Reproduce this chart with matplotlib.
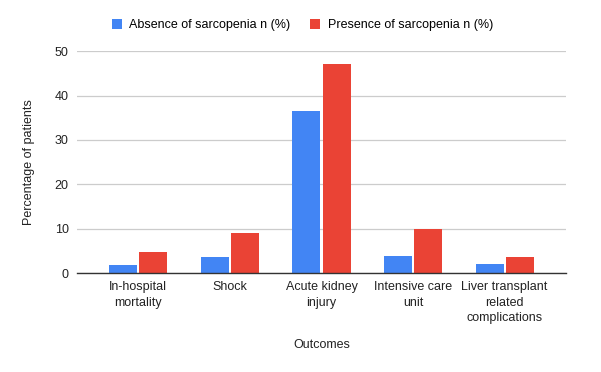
import matplotlib
matplotlib.use("Agg")
import matplotlib.pyplot as plt
import numpy as np

plt.rcParams['font.family'] = ['Liberation Sans', 'DejaVu Sans']

categories = ["In-hospital\nmortality", "Shock", "Acute kidney\ninjury",
              "Intensive care\nunit", "Liver transplant\nrelated\ncomplications"]
absence = [1.8, 3.6, 36.5, 3.8, 2.0]
presence = [4.7, 9.0, 47.1, 9.9, 3.6]
series_names = ["Absence of sarcopenia n (%)", "Presence of sarcopenia n (%)"]
yticks = [0, 10, 20, 30, 40, 50]

fig = plt.figure(figsize=(6.01, 3.72), dpi=100)
ax = fig.add_axes([77/601, 1-273/372, (566-77)/601, (273-51.3)/372])

x = np.arange(len(categories))
w = 0.306
gap = 0.011
b1 = ax.bar(x - w/2 - gap, absence, w, color="#4285F4", label=series_names[0], zorder=3)
b2 = ax.bar(x + w/2 + gap, presence, w, color="#EA4335", label=series_names[1], zorder=3)

ax.set_xlim(-0.67, len(categories) - 1 + 0.67)
ax.set_ylim(0, 50)
ax.set_yticks(yticks)
ax.set_xticks(x)
ax.set_xticklabels(categories, fontsize=9, color="#222222", linespacing=1.38)
ax.tick_params(axis='y', labelsize=9, colors="#222222", length=0, pad=6)
ax.tick_params(axis='x', length=0, pad=6)
ax.grid(axis='y', color="#cccccc", linewidth=0.9, zorder=0)
for s in ['top', 'right', 'left']:
    ax.spines[s].set_visible(False)
ax.spines['bottom'].set_color("#333333")
ax.spines['bottom'].set_linewidth(1.0)
ax.spines['bottom'].set_zorder(4)

ax.set_ylabel("Percentage of patients", fontsize=9, color="#222222", labelpad=14)
ax.set_xlabel("Outcomes", fontsize=9, color="#222222", labelpad=11)

fig.legend(handles=[b1, b2], labels=series_names, loc='center', bbox_to_anchor=(0.503, 1-25/372),
           ncol=2, frameon=False, fontsize=9, handlelength=0.8, handleheight=0.8,
           columnspacing=1.6, handletextpad=0.6)

fig.savefig("out.png", dpi=100)
